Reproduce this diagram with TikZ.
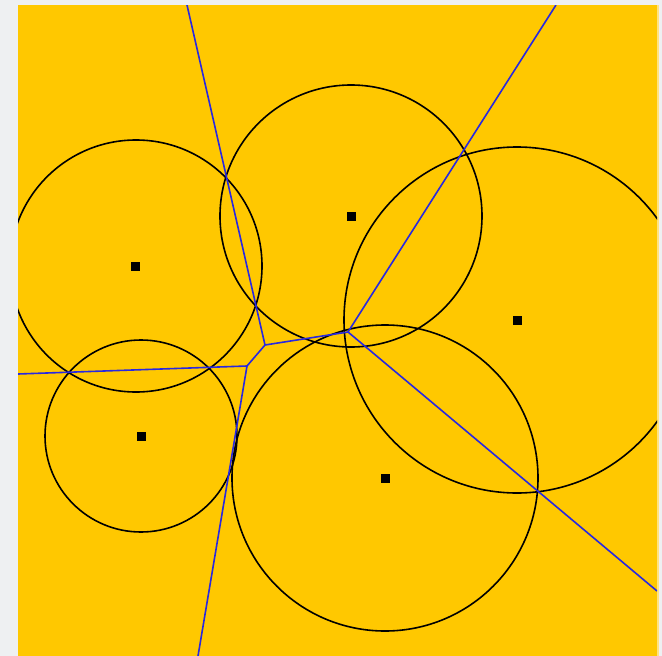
\documentclass[tikz,border=0pt]{standalone}
\begin{document}
\begin{tikzpicture}[x=1pt,y=-1pt,
  circ/.style={draw=black,line width=1.6pt},
  vor/.style={draw=vorblue,line width=1.6pt},
  site/.style={fill=black,minimum size=9pt,inner sep=0pt,draw=none,rectangle}]
\definecolor{bggray}{RGB}{238,240,242}
\definecolor{field}{RGB}{255,200,0}
\definecolor{vorblue}{RGB}{40,40,225}
\useasboundingbox (0,0) rectangle (662,656);
\fill[bggray] (0,0) rectangle (662,656);
\fill[field] (18,5) rectangle (657,656);
\fill[field!50!white] (657,5) rectangle (659,656);
\begin{scope}
\clip (18,5) rectangle (657,656);
% circles
\draw[circ] (136,266) circle (126);
\draw[circ] (351,216) circle (131);
\draw[circ] (517,320) circle (173);
\draw[circ] (141,436) circle (96);
\draw[circ] (385,478) circle (153);
% voronoi edges
\coordinate (vA) at (265,345);
\coordinate (vB) at (348,332);
\coordinate (vC) at (247,366);
\coordinate (eTop) at (187,5);
\coordinate (eTR) at (556,5);
\coordinate (eR) at (657,591);
\coordinate (eB) at (198,656);
\coordinate (eL) at (18,374);
\draw[vor] (eTop) -- (vA);
\draw[vor] (vA) -- (vB);
\draw[vor] (vA) -- (vC);
\draw[vor] (vB) -- (eTR);
\draw[vor] (vB) -- (eR);
\draw[vor] (vC) -- (eB);
\draw[vor] (vC) -- (eL);
\end{scope}
% sites
\node[site] (s1) at (135,266) {};
\node[site] (s2) at (351,216) {};
\node[site] (s3) at (517,320) {};
\node[site] (s4) at (141,436) {};
\node[site] (s5) at (385,478) {};
\end{tikzpicture}
\end{document}
